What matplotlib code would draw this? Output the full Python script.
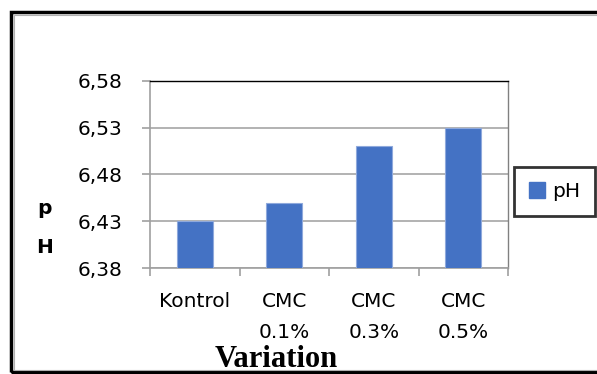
import matplotlib.pyplot as plt
from matplotlib.patches import Rectangle, Patch

# data
categories = ["Kontrol", "CMC\n0.1%", "CMC\n0.3%", "CMC\n0.5%"]
ph_values = [6.43, 6.45, 6.51, 6.53]
y_ticks = [6.38, 6.43, 6.48, 6.53, 6.58]
y_tick_labels = ["6,38", "6,43", "6,48", "6,53", "6,58"]

W, H = 597, 374
fig = plt.figure(figsize=(W / 100, H / 100), dpi=100)
ax = fig.add_axes([150 / W, 1 - 268 / H, 358 / W, 187 / H])

bar_color = "#4472C4"
x = range(len(categories))
ax.bar(x, ph_values, width=0.4, color=bar_color, edgecolor="#8fa9dc",
       linewidth=0.8, zorder=3)

ax.set_xlim(-0.5, len(categories) - 0.5)
ax.set_ylim(y_ticks[0], y_ticks[-1])
ax.set_yticks(y_ticks)
ax.set_yticklabels(y_tick_labels)
ax.yaxis.grid(True, color="#a6a6a6", linewidth=1.2, zorder=0)

# category labels without ticks, boundary ticks as minor ticks
ax.set_xticks(list(x))
ax.set_xticklabels(categories, linespacing=1.8)
ax.set_xticks([i - 0.5 for i in range(len(categories) + 1)], minor=True)
ax.tick_params(axis="x", which="major", length=0, pad=17, labelsize=14.5)
ax.tick_params(axis="x", which="minor", length=6, width=1.2, color="#a0a0a0")
ax.tick_params(axis="y", length=6, width=1.2, color="#a0a0a0", pad=14,
               labelsize=14.5)

for side in ["left", "bottom"]:
    ax.spines[side].set_color("#a0a0a0")
    ax.spines[side].set_linewidth(1.2)
ax.spines["top"].set_color("black")
ax.spines["top"].set_linewidth(1.0)
ax.spines["right"].set_color("#808080")
ax.spines["right"].set_linewidth(1.0)

# y label split over two lines
fig.text(45 / W, 1 - 214 / H, "p", fontsize=14.5, fontweight="bold",
         ha="center", va="baseline")
fig.text(45 / W, 1 - 253 / H, "H", fontsize=14.5, fontweight="bold",
         ha="center", va="baseline")

fig.text(276 / W, 1 - 367 / H, "Variation", fontsize=22, fontweight="bold",
         family="Liberation Serif", ha="center", va="baseline")

leg = fig.legend(handles=[Patch(color=bar_color, label="pH")],
                 loc="center", bbox_to_anchor=(554.5 / W, 1 - 191.5 / H),
                 fontsize=14.5, fancybox=False, handlelength=0.8,
                 handleheight=0.8, handletextpad=0.35, borderpad=0.75,
                 borderaxespad=0)
leg.get_frame().set_edgecolor("black")
leg.get_frame().set_linewidth(2.0)

# outer frame of the chart, right side runs off the image
fig.patches.append(Rectangle((11 / W, 2 / H), 1.0, 360 / H,
                             transform=fig.transFigure, fill=False,
                             edgecolor="black", linewidth=2.5))
fig.patches.append(Rectangle((13.5 / W, 4.5 / H), 1.0, 355 / H,
                             transform=fig.transFigure, fill=False,
                             edgecolor="#b0b0b0", linewidth=0.8))

fig.savefig("out.png", dpi=100)
